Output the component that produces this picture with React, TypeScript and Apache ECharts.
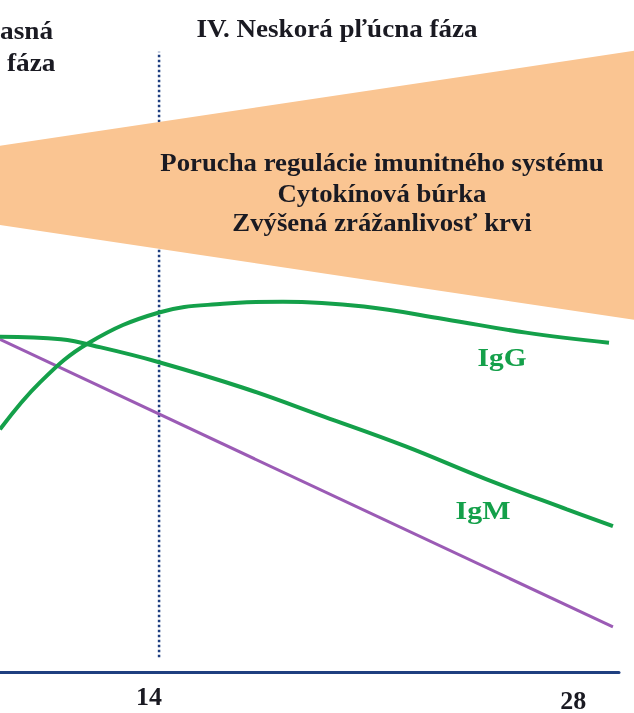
import React, { useEffect, useRef } from "react";
import * as echarts from "echarts";

// Days (x) and relative level (y, 0..100)
const igGDays = [8.75, 10.07, 11.69, 14.0, 16.11, 18.09, 20.76, 23.44, 26.11, 28.85];
const igGLevel = [36.1, 43.1, 49.0, 53.5, 54.8, 55.1, 54.4, 52.5, 50.5, 49.0];

const igMDays = [8.75, 10.76, 12.08, 14.0, 16.77, 19.44, 22.12, 24.79, 27.46, 28.98];
const igMLevel = [49.9, 49.5, 48.3, 46.1, 42.3, 38.0, 33.6, 28.7, 24.2, 21.7];

const purpleDays = [8.75, 28.98];
const purpleLevel = [49.5, 6.7];

const phaseLineDay = 14;
const phaseLineLevels = [2.2, 92.3];

const wedgeDays = [0, 30, 30];
const wedgeLevels = [72.4, 92.65, 52.2];

const tickDays = [14, 28];

const wedgeTexts = [
  "Porucha regulácie imunitného systému",
  "Cytokínová búrka",
  "Zvýšená zrážanlivosť krvi",
];

const GREEN = "#14a04a";
const PURPLE = "#9b5bb5";
const NAVY = "#1f3f80";
const TEXT = "#1a1a22";
const SERIF = "'Liberation Serif', 'DejaVu Serif', serif";

export default function App() {
  const ref = useRef<HTMLDivElement>(null);

  useEffect(() => {
    if (!ref.current) return;
    const chart = echarts.init(ref.current, undefined, { renderer: "svg" });
    const zip = (a: number[], b: number[]) => a.map((v, i) => [v, b[i]]);

    const txt = (
      text: string,
      x: number,
      y: number,
      opts: { size?: number; fill?: string; align?: string; sx?: number } = {}
    ) => ({
      type: "text",
      x,
      y,
      z: 10,
      scaleX: opts.sx ?? 1,
      style: {
        text,
        fontFamily: SERIF,
        fontWeight: "bold",
        fontSize: opts.size ?? 26,
        fill: opts.fill ?? TEXT,
        align: opts.align ?? "center",
        verticalAlign: "middle",
      },
    });

    chart.setOption({
      animation: false,
      grid: { left: 0, top: 0, width: 619, height: 673 },
      xAxis: {
        type: "value",
        min: 8.75,
        max: 29.18,
        axisLine: { show: true, lineStyle: { color: NAVY, width: 3 } },
        axisTick: { show: false },
        splitLine: { show: false },
        axisLabel: {
          customValues: tickDays,
          margin: 11,
          formatter: (v: number) => (v === 14 ? "{a|14}" : "{b|28}"),
          rich: {
            a: {
              fontFamily: SERIF,
              fontWeight: "bold",
              fontSize: 26,
              color: TEXT,
              padding: [0, 20, 0, 0],
            },
            b: {
              fontFamily: SERIF,
              fontWeight: "bold",
              fontSize: 26,
              color: TEXT,
              padding: [4, 20, 0, 0],
            },
          },
        },
      },
      yAxis: {
        type: "value",
        min: 0,
        max: 100,
        show: false,
        splitLine: { show: false },
      },
      series: [
        {
          type: "line",
          data: phaseLineLevels.map((l) => [phaseLineDay, l]),
          symbol: "none",
          lineStyle: { color: NAVY, width: 2.5, type: [2.5, 2.5] },
          z: 1,
        },
        {
          type: "custom",
          clip: false,
          z: 2,
          data: [0],
          renderItem: (_params: any, api: any) => {
            const pts = wedgeDays.map((d, i) => api.coord([d, wedgeLevels[i]]));
            return {
              type: "polygon",
              shape: { points: pts },
              style: { fill: "#fac592" },
            };
          },
        },
        {
          type: "line",
          data: zip(purpleDays, purpleLevel),
          symbol: "none",
          lineStyle: { color: PURPLE, width: 3 },
          z: 3,
        },
        {
          type: "line",
          data: zip(igMDays, igMLevel),
          symbol: "none",
          smooth: 0.4,
          lineStyle: { color: GREEN, width: 4 },
          z: 4,
        },
        {
          type: "line",
          data: zip(igGDays, igGLevel),
          symbol: "none",
          smooth: 0.4,
          lineStyle: { color: GREEN, width: 4 },
          z: 4,
        },
      ],
      graphic: [
        txt("IV. Neskorá pľúcna fáza", 337, 28, { sx: 1.04 }),
        txt("asná", 0, 30, { align: "left", sx: 1.05 }),
        txt("fáza", 7, 62, { align: "left", sx: 1.05 }),
        ...wedgeTexts.map((t, i) => txt(t, 382, [162, 193, 222][i], { sx: 1.03 })),
        txt("IgG", 502, 357, { fill: GREEN, sx: 1.13 }),
        txt("IgM", 483, 510, { fill: GREEN, sx: 1.15 }),
      ],
    });

    return () => chart.dispose();
  }, []);

  return (
    <div
      ref={ref}
      style={{ position: "fixed", left: 0, top: 0, width: 634, height: 713 }}
    />
  );
}
